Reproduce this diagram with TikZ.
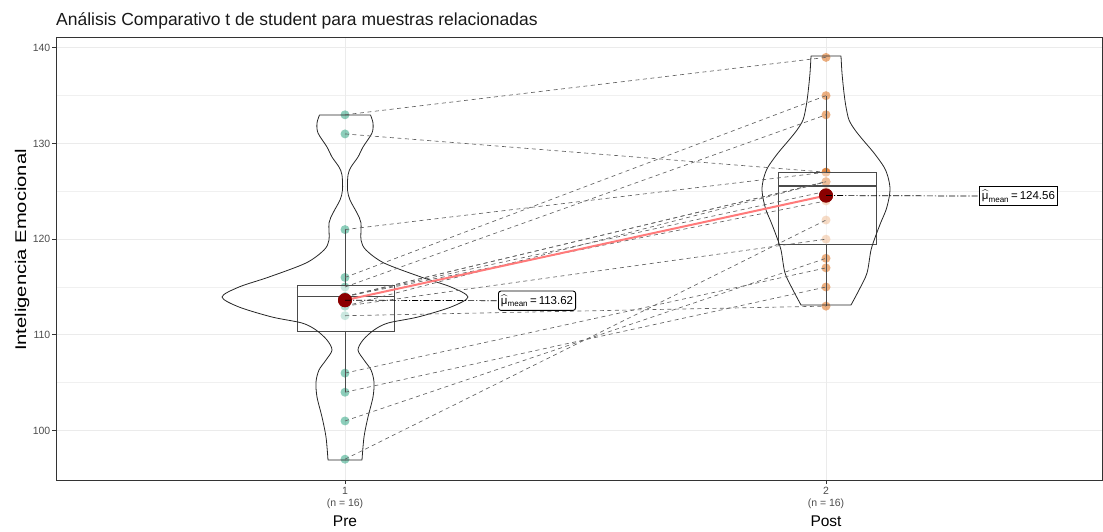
\documentclass[tikz,border=0pt]{standalone}
\usepackage{fontspec}
\setmainfont{Liberation Sans}
\usepackage{amsmath}
\definecolor{gridc}{HTML}{EBEBEB}
\definecolor{gridminor}{HTML}{F0F0F0}
\definecolor{axisc}{HTML}{333333}
\definecolor{tickc}{HTML}{4D4D4D}
\definecolor{pregreen}{HTML}{1B9E77}
\definecolor{postorange}{HTML}{D95F02}
\definecolor{meanred}{HTML}{8B0000}
\definecolor{meanline}{HTML}{FF7A7A}
\definecolor{pairc}{HTML}{626262}
\definecolor{boxc}{HTML}{4A4A4A}
\begin{document}
\begin{tikzpicture}[x=1pt,y=-1pt,
  declare function={py(\v)=430.5-(\v-100)*9.567;},
  majorgrid/.style={draw=gridc, line width=1pt},
  minorgrid/.style={draw=gridminor, line width=0.6pt},
  pairline/.style={draw=pairc, line width=0.65pt, dash pattern=on 4pt off 3.5pt},
  violinline/.style={draw=black!85, line width=0.8pt, line join=round},
  boxline/.style={draw=boxc, line width=0.75pt},
  medianline/.style={draw=boxc, line width=1.5pt},
  prept/.style={circle, fill=pregreen, fill opacity=0.5, inner sep=0pt, minimum size=9pt},
  postpt/.style={circle, fill=postorange, fill opacity=0.5, inner sep=0pt, minimum size=9pt},
  meanpt/.style={circle, fill=meanred, inner sep=0pt, minimum size=14pt},
  meanlab/.style={draw=black, line width=0.9pt, fill=white, inner xsep=2.5pt, inner ysep=3.5pt, font=\fontsize{11.5}{13}\selectfont},
  dashdot/.style={draw=black, line width=0.7pt, dash pattern=on 6pt off 2pt on 1.2pt off 2pt},
  ticklab/.style={text=tickc, font=\fontsize{10.5}{12}\selectfont},
]
\useasboundingbox (0,0) rectangle (1103,531);
% grid
\foreach \v in {105,115,125,135} \draw[minorgrid] (56,{py(\v)}) -- (1103,{py(\v)});
\foreach \v in {100,110,120,130,140} \draw[majorgrid] (56,{py(\v)}) -- (1103,{py(\v)});
\draw[majorgrid] (345,37) -- (345,480);
\draw[majorgrid] (826,37) -- (826,480);

% data points
\foreach \a/\b/\i in {133/139/1,131/127/2,121/127/3,116/135/4,115/133/5,114/126/6,114/126/7,114/125/8,114/124/9,113/126/10,113/120/11,112/113/12,106/117/13,104/115/14,101/118/15,97/122/16}{
  \node[prept] (p\i) at (345,{py(\a)}) {};
  \node[postpt] (q\i) at (826,{py(\b)}) {};
}
% boxes (semi-transparent white fill)
\draw[boxline, fill=white, fill opacity=0.55] (297,{py(110.4)}) rectangle (394,{py(115.2)});
\draw[medianline] (297,{py(114)}) -- (394,{py(114)});
\coordinate (prewhiskU) at (345,{py(121)});
\coordinate (prewhiskL) at (345,{py(104)});
\coordinate (preQ3) at (345,{py(115.2)});
\coordinate (preQ1) at (345,{py(110.4)});
\draw[boxline] (preQ3) -- (prewhiskU);
\draw[boxline] (preQ1) -- (prewhiskL);

\draw[boxline, fill=white, fill opacity=0.55] (778,{py(119.5)}) rectangle (876,{py(127)});
\draw[medianline] (778,{py(125.55)}) -- (876,{py(125.55)});
\coordinate (postwhiskU) at (826,{py(135)});
\coordinate (postwhiskL) at (826,{py(113)});
\coordinate (postQ3) at (826,{py(127)});
\coordinate (postQ1) at (826,{py(119.5)});
\draw[boxline] (postQ3) -- (postwhiskU);
\draw[boxline] (postQ1) -- (postwhiskL);

% violins
\draw[violinline] (319.5,115) -- (370.5,115) -- plot[smooth] coordinates {(370.5,115) (373,123) (372,133) (363,147) (358,157) (351,167) (348,175) (347.5,190) (350,200) (357,213) (361,223) (361,240) (366,250) (384,263) (421,277) (451,287) (468,297) (451,307) (418,317) (388,323) (374,330) (363,340) (358,350) (364,360) (371,370) (374,382) (373,397) (368,417) (364,437) (362,460)}
  -- (328,460) -- plot[smooth] coordinates {(328,460) (326,437) (322,417) (317,397) (316,382) (319,370) (326,360) (332,350) (327,340) (316,330) (302,323) (272,317) (239,307) (222,297) (239,287) (269,277) (306,263) (324,250) (329,240) (329,223) (333,213) (340,200) (342.5,190) (342,175) (339,167) (332,157) (327,147) (318,133) (317,123) (319.5,115)} -- cycle;
\draw[violinline] (811,56) -- (841,56) -- plot[smooth] coordinates {(841,56) (842,73) (844,93) (846,107) (849,120) (855,130) (863,140) (874,153) (884,167) (888,177) (890,188) (889,198) (886,210) (881,222) (876,235) (871,250) (867,273) (859,290) (851,305)}
  -- (801,305) -- plot[smooth] coordinates {(801,305) (793,290) (785,273) (781,250) (776,235) (771,222) (766,210) (763,198) (762,188) (764,177) (768,167) (778,153) (789,140) (797,130) (803,120) (806,107) (808,93) (810,73) (811,56)} -- cycle;

% paired lines
\foreach \i in {1,...,16} \draw[pairline] (p\i.center) -- (q\i.center);

% means
\node[meanpt] (mpre) at (345,{py(113.62)}) {};
\node[meanpt] (mpost) at (826,{py(124.56)}) {};
\draw[draw=meanline, line width=2pt] (mpre.center) -- (mpost.center);
\node[meanpt] at (mpre) {};
\node[meanpt] at (mpost) {};

\node[meanlab, rounded corners=2.5pt, anchor=west] (lpre) at (498,{py(113.62)+0.5}) {$\widehat{\text{μ}}_{\text{mean}}$\,=\,113.62};
\node[meanlab, anchor=west] (lpost) at (979,{py(124.56)+0.5}) {$\widehat{\text{μ}}_{\text{mean}}$\,=\,124.56};
\draw[dashdot] (mpre.center) -- (lpre.west);
\draw[dashdot] (mpost.center) -- (lpost.west);

% panel border
\draw[draw=axisc, line width=1pt] (56,37) rectangle (1102.5,480);

% y ticks
\foreach \v in {100,110,120,130,140}{
  \draw[draw=axisc, line width=0.8pt] (52,{py(\v)}) -- (56,{py(\v)});
  \node[ticklab, anchor=east, inner sep=0pt] (yt\v) at (50.5,{py(\v)}) {\v};
}
% x ticks
\draw[draw=axisc, line width=0.8pt] (345,480) -- (345,484);
\draw[draw=axisc, line width=0.8pt] (826,480) -- (826,484);
\node[ticklab, inner sep=0pt] (x1a) at (345,491) {1};
\node[ticklab, inner sep=0pt] (x1b) at (345,504) {(n = 16)};
\node[ticklab, inner sep=0pt] (x2a) at (826,491) {2};
\node[ticklab, inner sep=0pt] (x2b) at (826,504) {(n = 16)};
\node[font=\fontsize{15.5}{17}\selectfont, inner sep=0pt] (xpre) at (345,521) {Pre};
\node[font=\fontsize{15.5}{17}\selectfont, inner sep=0pt] (xpost) at (826,521) {Post};

% axis title
\node[rotate=90, xscale=1.3, font=\fontsize{15.5}{17}\selectfont, inner sep=0pt] (ytitle) at (22,250) {Inteligencia Emocional};
% title
\node[anchor=base west, font=\fontsize{17.5}{20}\selectfont, inner sep=0pt, text=black!90] (title) at (56,25) {Análisis Comparativo t de student para muestras relacionadas};
\end{tikzpicture}
\end{document}
